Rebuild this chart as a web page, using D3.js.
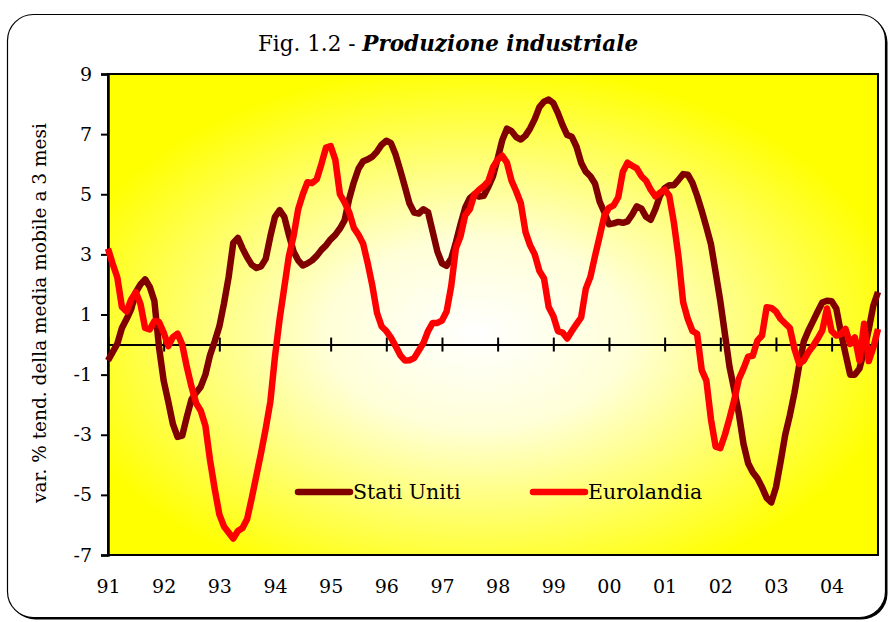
<!DOCTYPE html>
<html>
  <head>
    <meta charset="utf-8">
    <title>Produzione industriale</title>
    <script src="https://cdn.jsdelivr.net/npm/d3@7"></script>
    <style>
      body { margin: 0; background: #fff; }
      text { font-family: "DejaVu Serif", "Liberation Serif", serif; fill: #000; }
    </style>
  </head>
  <body>
    <svg width="890" height="622" id="mainsvg"></svg>
    <script>
        // year labels, one per January from 1991
        const yearLabels = ['91','92','93','94','95','96','97','98','99','00','01','02','03','04'];
        const yTicks = [-7, -5, -3, -1, 1, 3, 5, 7, 9];

        // monthly values, Jan 1991 .. Nov 2004
        const statiUniti = [
          -0.53,-0.25,0.02,0.55,0.85,1.18,1.74,2.0,2.17,1.92,1.45,-0.09,
          -1.2,-1.9,-2.65,-3.07,-3.03,-2.4,-1.82,-1.6,-1.4,-1.0,-0.35,0.1,
          0.6,1.36,2.24,3.38,3.55,3.2,2.9,2.65,2.55,2.6,2.85,3.6,
          4.25,4.47,4.25,3.65,3.1,2.8,2.63,2.7,2.8,2.95,3.15,3.3,
          3.5,3.65,3.86,4.13,4.85,5.4,5.85,6.1,6.16,6.25,6.42,6.65,
          6.78,6.7,6.32,5.8,5.25,4.69,4.39,4.36,4.5,4.4,3.75,3.1,
          2.7,2.62,2.86,3.4,4.0,4.55,4.87,5.0,4.92,4.95,5.25,5.6,
          6.18,6.8,7.18,7.1,6.9,6.82,6.95,7.19,7.5,7.9,8.08,8.15,
          8.03,7.7,7.3,6.97,6.91,6.58,6.05,5.75,5.6,5.35,4.75,4.4,
          4.0,4.03,4.08,4.05,4.1,4.32,4.6,4.52,4.25,4.15,4.5,4.95,
          5.2,5.3,5.3,5.48,5.67,5.65,5.38,4.95,4.45,3.91,3.33,2.4,
          1.45,0.35,-0.75,-1.5,-2.3,-3.3,-3.95,-4.25,-4.45,-4.75,-5.1,-5.25,
          -4.75,-3.9,-3.0,-2.35,-1.6,-0.7,0.1,0.47,0.78,1.1,1.4,1.46,
          1.44,1.2,0.4,-0.31,-1.0,-1.0,-0.8,-0.2,0.5,1.3,1.75
        ];
        const eurolandia = [
          3.19,2.69,2.24,1.25,1.1,1.5,1.74,1.35,0.55,0.5,0.78,0.75,
          0.4,-0.05,0.25,0.36,0.0,-0.75,-1.4,-1.95,-2.2,-2.7,-3.85,-4.8,
          -5.65,-6.05,-6.25,-6.45,-6.2,-6.1,-5.8,-5.1,-4.35,-3.6,-2.8,-1.9,
          -0.4,0.85,1.9,2.95,3.6,4.5,5.0,5.4,5.37,5.5,6.0,6.55,
          6.6,6.15,5.0,4.73,4.4,3.88,3.65,3.35,2.7,1.95,1.05,0.6,
          0.45,0.23,-0.05,-0.35,-0.53,-0.52,-0.45,-0.2,0.05,0.45,0.72,0.72,
          0.8,1.1,1.95,3.2,3.6,4.3,4.5,5.0,5.15,5.27,5.43,5.9,
          6.15,6.28,6.05,5.45,5.1,4.7,3.75,3.3,3.0,2.45,2.2,1.25,
          0.95,0.45,0.4,0.2,0.45,0.68,0.9,1.85,2.25,2.95,3.6,4.28,
          4.55,4.63,4.9,5.75,6.05,5.95,5.86,5.6,5.45,5.15,4.93,5.05,
          5.15,4.95,4.05,2.91,1.4,0.85,0.45,0.36,-0.85,-1.2,-2.5,-3.4,
          -3.45,-3.0,-2.45,-1.85,-1.15,-0.8,-0.4,-0.37,0.13,0.3,1.24,1.22,
          1.1,0.85,0.7,0.55,-0.15,-0.64,-0.53,-0.25,-0.05,0.2,0.47,1.2,
          0.45,0.3,0.35,0.52,0.02,0.24,-0.53,0.69,-0.55,-0.1,0.52
        ];

        const svg = d3.select('#mainsvg');
        const width = +svg.attr('width');
        const height = +svg.attr('height');
        const margin = {top: 74, right: 12, bottom: 67, left: 108};
        const innerWidth = width - margin.left - margin.right;
        const innerHeight = height - margin.top - margin.bottom;

        // outer frame with a bit of shadow
        svg.append('rect').attr('x', 9.5).attr('y', 16.5).attr('width', 878).attr('height', 603)
          .attr('rx', 26).attr('fill', '#000');
        svg.append('rect').attr('x', 7.5).attr('y', 14.5).attr('width', 878).attr('height', 603)
          .attr('rx', 26).attr('fill', '#fff').attr('stroke', '#000').attr('stroke-width', 1.2);

        // background gradient
        const grad = svg.append('defs').append('radialGradient').attr('id', 'bg')
          .attr('cx', 0.48).attr('cy', 0.54).attr('r', 0.56);
        grad.append('stop').attr('offset', 0).attr('stop-color', '#ffffff');
        grad.append('stop').attr('offset', 0.35).attr('stop-color', '#ffffd8');
        grad.append('stop').attr('offset', 1).attr('stop-color', '#ffff00');

        const g = svg.append('g').attr('transform', `translate(${margin.left}, ${margin.top})`);

        const xScale = d3.scaleLinear().domain([0, statiUniti.length - 1]).range([0, innerWidth]);
        const yScale = d3.scaleLinear().domain([-7, 9]).range([innerHeight, 0]);

        g.append('rect').attr('width', innerWidth).attr('height', innerHeight)
          .attr('fill', 'url(#bg)').attr('stroke', '#000').attr('stroke-width', 2);

        // y axis (plain hyphen for negatives, as in the original)
        const yAxis = d3.axisLeft(yScale).tickValues(yTicks).tickSize(7).tickPadding(9)
          .tickFormat(d => String(d));
        const yg = g.append('g').call(yAxis);
        yg.select('.domain').attr('stroke-width', 2.5);
        yg.selectAll('.tick line').attr('stroke-width', 2);
        yg.selectAll('.tick text').attr('font-size', '19px');

        // zero line with year ticks
        const yearPos = yearLabels.map((d, i) => i * 12);
        const zeroAxis = d3.axisBottom(xScale).tickValues(yearPos).tickSize(0).tickFormat('');
        const zg = g.append('g').attr('transform', `translate(0, ${yScale(0)})`).call(zeroAxis);
        zg.select('.domain').attr('stroke-width', 2);
        zg.selectAll('.tick text').remove();
        zg.selectAll('.tick line').attr('y1', -7).attr('y2', 7).attr('stroke-width', 2);

        // year labels at bottom
        const xAxis = d3.axisBottom(xScale).tickValues(yearPos).tickSize(0).tickPadding(25)
          .tickFormat((d, i) => yearLabels[i]);
        const xg = g.append('g').attr('transform', `translate(0, ${innerHeight})`).call(xAxis);
        xg.select('.domain').remove();
        xg.selectAll('.tick text').attr('font-size', '19px');

        // lines
        const line = d3.line().x((d, i) => xScale(i)).y(d => yScale(d)).curve(d3.curveLinear);
        g.append('path').datum(statiUniti).attr('d', line).attr('fill', 'none')
          .attr('stroke', '#800000').attr('stroke-width', 6.5).attr('stroke-linejoin', 'round');
        g.append('path').datum(eurolandia).attr('d', line).attr('fill', 'none')
          .attr('stroke', '#ff0000').attr('stroke-width', 6.5).attr('stroke-linejoin', 'round');

        // legend
        const legend = [
          {name: 'Stati Uniti', color: '#800000', x: 298},
          {name: 'Eurolandia', color: '#ff0000', x: 533}
        ];
        legend.forEach(l => {
          svg.append('line').attr('x1', l.x).attr('x2', l.x + 52).attr('y1', 492).attr('y2', 492)
            .attr('stroke', l.color).attr('stroke-width', 6.5).attr('stroke-linecap', 'round');
          svg.append('text').text(l.name).attr('x', l.x + 55).attr('y', 499).attr('font-size', '20.5px');
        });

        // title
        const title = svg.append('text').attr('x', 448).attr('y', 51)
          .attr('text-anchor', 'middle').attr('font-size', '21.5px');
        title.append('tspan').text('Fig. 1.2 - ');
        title.append('tspan').text('Produzione industriale').attr('font-weight', 'bold').attr('font-style', 'italic');

        // y axis label
        svg.append('text').text('var. % tend. della media mobile a 3 mesi')
          .attr('transform', `translate(46, 313) rotate(-90)`)
          .attr('text-anchor', 'middle').attr('font-size', '18.5px');
    </script>
  </body>
</html>
